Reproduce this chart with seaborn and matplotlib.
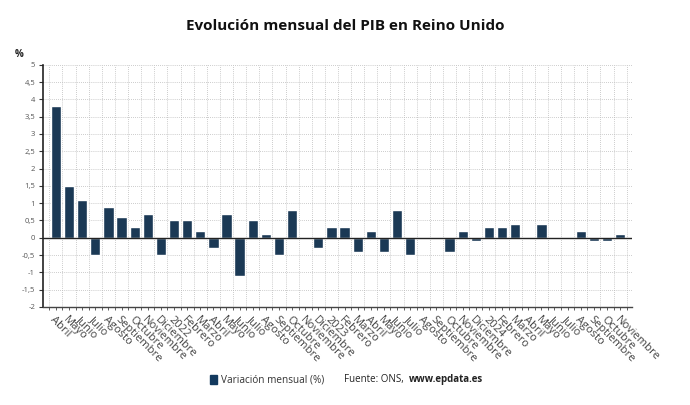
import numpy as np
import pandas as pd
import matplotlib
matplotlib.use("Agg")
import matplotlib.pyplot as plt
import seaborn as sns

# Monthly GDP change, Abril 2021 - Noviembre 2024
meses = ["Abril", "Mayo", "Junio", "Julio", "Agosto", "Septiembre", "Octubre", "Noviembre", "Diciembre",
         "2022", "Febrero", "Marzo", "Abril", "Mayo", "Junio", "Julio", "Agosto", "Septiembre", "Octubre",
         "Noviembre", "Diciembre",
         "2023", "Febrero", "Marzo", "Abril", "Mayo", "Junio", "Julio", "Agosto", "Septiembre", "Octubre",
         "Noviembre", "Diciembre",
         "2024", "Febrero", "Marzo", "Abril", "Mayo", "Junio", "Julio", "Agosto", "Septiembre", "Octubre",
         "Noviembre"]
variacion = [3.8, 1.5, 1.1, -0.5, 0.9, 0.6, 0.3, 0.7, -0.5,
             0.5, 0.5, 0.2, -0.3, 0.7, -1.1, 0.5, 0.1, -0.5, 0.8, 0.0, -0.3,
             0.3, 0.3, -0.4, 0.2, -0.4, 0.8, -0.5, 0.0, 0.0, -0.4, 0.2, -0.1,
             0.3, 0.3, 0.4, 0.0, 0.4, 0.0, 0.0, 0.2, -0.1, -0.1, 0.1]
y_ticks = [-2, -1.5, -1, -0.5, 0, 0.5, 1, 1.5, 2, 2.5, 3, 3.5, 4, 4.5, 5]

df = pd.DataFrame({"pos": np.arange(len(meses)), "valor": variacion})

sns.set_style("white")
plt.rcParams['font.family'] = ['Open Sans', 'DejaVu Sans']

color = "#12395e"
fig = plt.figure(figsize=(6.9, 4.05), dpi=100)
ax = fig.add_axes([0.063, 0.242, 0.853, 0.598])

sns.barplot(data=df, x="pos", y="valor", color=color, width=0.785, ax=ax, zorder=3)

n = len(meses)
ax.set_xlim(-0.95, n - 1 + 0.91)
ax.set_ylim(-2, 5)

# dotted grid: vertical lines between categories, horizontal at every tick
for b in np.arange(-0.5, n, 1.0):
    ax.axvline(b, color="#bbbbbb", lw=0.6, ls=(0, (1, 1.5)), zorder=1)
for t in y_ticks:
    ax.axhline(t, color="#bbbbbb", lw=0.6, ls=(0, (1, 1.5)), zorder=1)
ax.axhline(0, color="#222222", lw=1.0, zorder=4)

ax.set_yticks(y_ticks)
ax.set_yticklabels([("%g" % t).replace(".", ",") for t in y_ticks], fontsize=5.5, color="#555555")
ax.set_xticks(np.arange(n))
ax.set_xticklabels(meses, rotation=-45, ha="left", va="top", rotation_mode="anchor",
                   fontsize=8, color="#444444")
ax.set_xticks(np.arange(-0.5, n, 1.0), minor=True)
ax.tick_params(axis="x", which="both", length=2.5, width=0.6, color="#444444", pad=2.5, bottom=True)
ax.tick_params(axis="y", length=3, width=0.8, color="#333333", pad=3, left=True)
ax.set_xlabel("")
ax.set_ylabel("")

for s in ["top", "right"]:
    ax.spines[s].set_visible(False)
ax.spines["left"].set_color("#222222")
ax.spines["left"].set_linewidth(1.2)
ax.spines["bottom"].set_color("#444444")
ax.spines["bottom"].set_linewidth(1.0)

fig.text(0.5, 0.935, "Evolución mensual del PIB en Reino Unido", ha="center", va="center",
         fontsize=11, fontweight="bold", color="#111111")
fig.text(0.022, 0.865, "%", ha="left", va="center", fontsize=7, fontweight="bold", color="#222222")

# legend + source line
fig.patches.append(plt.Rectangle((0.304, 0.052), 0.011, 0.021, transform=fig.transFigure,
                                 color=color, figure=fig))
fig.text(0.32, 0.062, "Variación mensual (%)", ha="left", va="center", fontsize=7.2, color="#333333")
fig.text(0.499, 0.062, "Fuente: ONS, ", ha="left", va="center", fontsize=7, color="#222222")
fig.text(0.592, 0.062, "www.epdata.es", ha="left", va="center", fontsize=7,
         fontweight="bold", color="#222222")

fig.savefig("out.png", dpi=100)
